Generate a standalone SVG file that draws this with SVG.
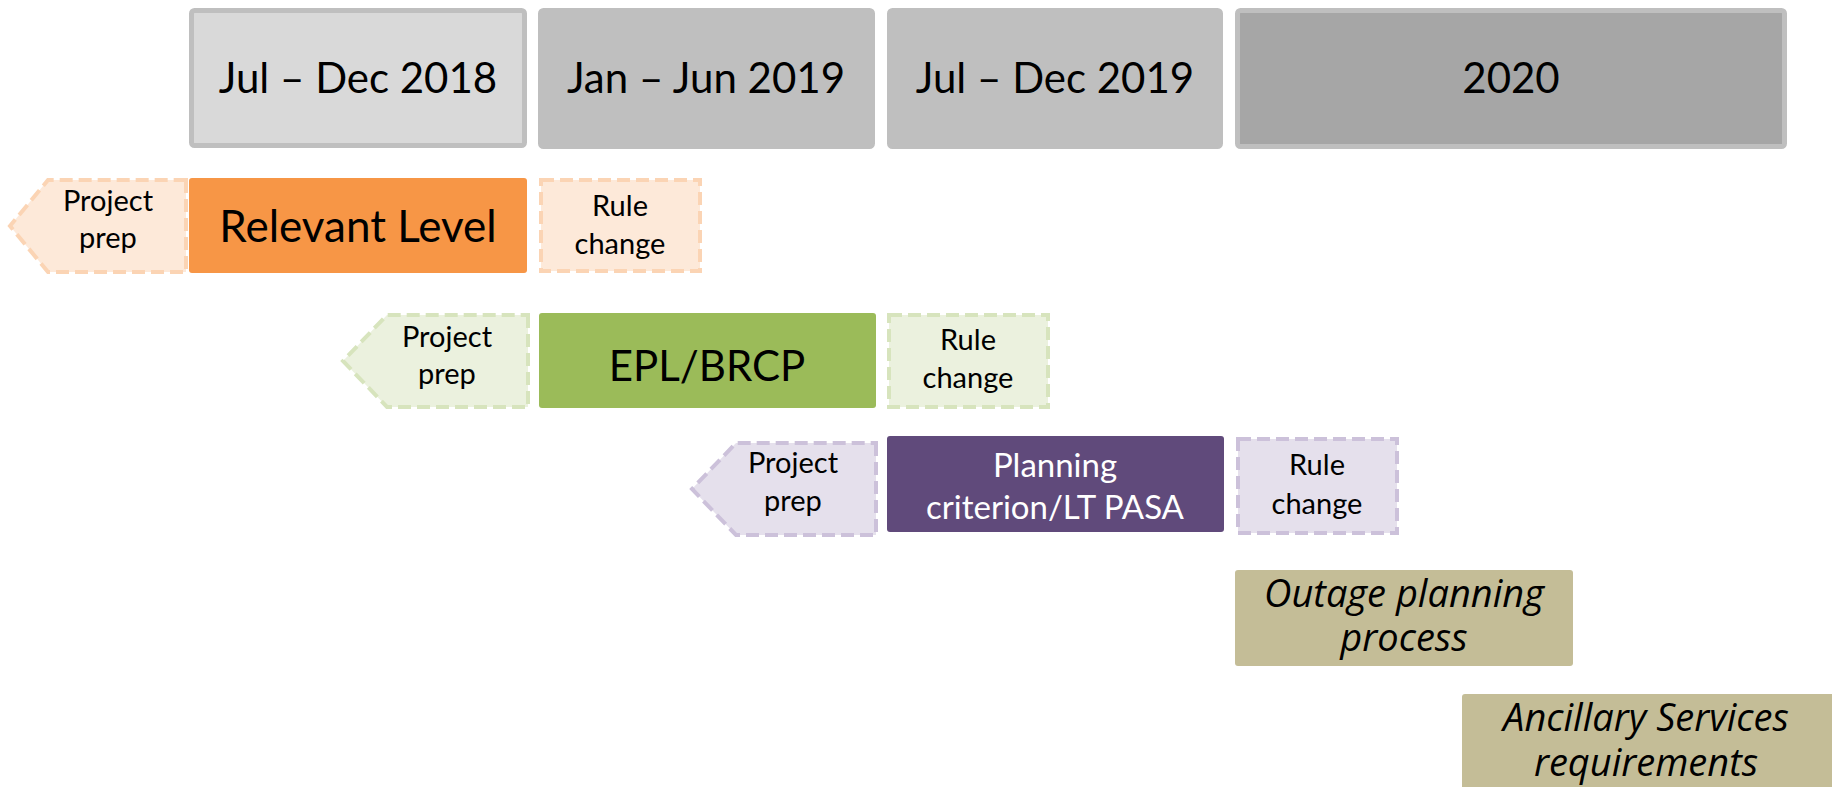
<svg xmlns="http://www.w3.org/2000/svg" width="1832" height="787" viewBox="0 0 1832 787">
<style>
text{font-family:Lato,"Open Sans","Liberation Sans",sans-serif;text-anchor:middle;fill:#000}
.hdr{stroke:#BFBFBF;stroke-width:5}
.big{font-size:42px}
.sm{font-size:29px}
.mid{font-size:33px}
.it{font-family:"Open Sans",Lato,sans-serif;font-size:38px;font-style:italic}
.dash{stroke-width:4;stroke-dasharray:13 6}
</style>
<rect width="1832" height="787" fill="#FFFFFF"/>
<g id="hdr-2018h2">
<rect class="hdr" x="191.5" y="10.5" width="333" height="135" rx="3" fill="#D9D9D9"/>
<text class="big" x="358" y="93">Jul – Dec 2018</text>
</g>
<g id="hdr-2019h1">
<rect class="hdr" x="540.5" y="10.5" width="332" height="136" rx="3" fill="#BFBFBF"/>
<text class="big" x="706" y="93">Jan – Jun 2019</text>
</g>
<g id="hdr-2019h2">
<rect class="hdr" x="889.5" y="10.5" width="331" height="136" rx="3" fill="#BFBFBF"/>
<text class="big" x="1055" y="93">Jul – Dec 2019</text>
</g>
<g id="hdr-2020">
<rect class="hdr" x="1237.5" y="10.5" width="547" height="136" rx="3" fill="#A6A6A6"/>
<text class="big" x="1511" y="93">2020</text>
</g>
<g id="rl-prep">
<polygon class="dash" points="186,180 186,272 48,272 10,226 48,180" fill="#FDE9D9" stroke="#FBD4B4"/>
<text class="sm" x="108" y="211">Project</text>
<text class="sm" x="108" y="248">prep</text>
</g>
<g id="rl-main">
<rect x="189" y="178" width="338" height="95" rx="3" fill="#F79646"/>
<text style="font-size:44px" x="358" y="242">Relevant Level</text>
</g>
<g id="rl-rule">
<rect class="dash" x="541" y="180" width="159" height="91" fill="#FDE9D9" stroke="#FBD4B4"/>
<text class="sm" x="620" y="216">Rule</text>
<text class="sm" x="620" y="254">change</text>
</g>
<g id="epl-prep">
<polygon class="dash" points="528,315 528,407 387,407 343,361 387,315" fill="#EBF1DE" stroke="#D7E4BD"/>
<text class="sm" x="447" y="347">Project</text>
<text class="sm" x="447" y="384">prep</text>
</g>
<g id="epl-main">
<rect x="539" y="313" width="337" height="95" rx="3" fill="#9BBB59"/>
<text class="big" x="707" y="381">EPL/BRCP</text>
</g>
<g id="epl-rule">
<rect class="dash" x="889" y="315" width="159" height="92" fill="#EBF1DE" stroke="#D7E4BD"/>
<text class="sm" x="968" y="350">Rule</text>
<text class="sm" x="968" y="388">change</text>
</g>
<g id="pc-prep">
<polygon class="dash" points="876,443 876,535 736,535 692,489 736,443" fill="#E5E0EC" stroke="#CCC1DA"/>
<text class="sm" x="793" y="473">Project</text>
<text class="sm" x="793" y="511">prep</text>
</g>
<g id="pc-main">
<rect x="887" y="436" width="337" height="96" rx="3" fill="#604A7B"/>
<text class="mid" x="1055" y="477" style="fill:#FFFFFF">Planning</text>
<text class="mid" x="1055" y="519" style="fill:#FFFFFF">criterion/LT PASA</text>
</g>
<g id="pc-rule">
<rect class="dash" x="1238" y="439" width="159" height="94" fill="#E5E0EC" stroke="#CCC1DA"/>
<text class="sm" x="1317" y="475">Rule</text>
<text class="sm" x="1317" y="514">change</text>
</g>
<g id="outage">
<rect x="1235" y="570" width="338" height="96" rx="3" fill="#C4BD97"/>
<text class="it" x="1404" y="607">Outage planning</text>
<text class="it" x="1404" y="651">process</text>
</g>
<g id="ancillary">
<rect x="1462" y="694" width="380" height="110" rx="3" fill="#C4BD97"/>
<text class="it" x="1646" y="731">Ancillary Services</text>
<text class="it" x="1646" y="776">requirements</text>
</g>
<g id="connectors"></g>
</svg>
